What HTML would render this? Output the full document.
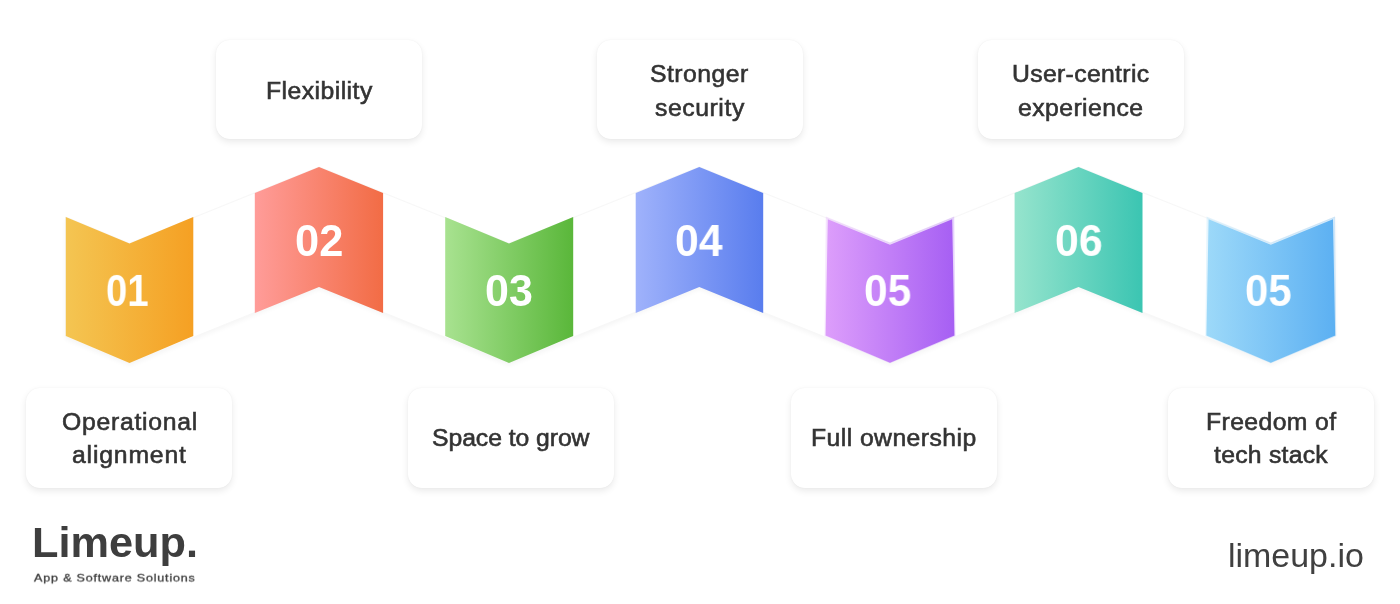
<!DOCTYPE html>
<html lang="en"><head><meta charset="utf-8"><title>Limeup – benefits</title>
<style>
*{box-sizing:border-box;margin:0;padding:0}
html,body{width:1400px;height:604px;background:#fff;overflow:hidden}
body{position:relative;font-family:"Liberation Sans",sans-serif;color:#333}
.art{position:absolute;left:0;top:0}
.card{position:absolute;width:206px;height:99.5px;border-radius:14px;background:#fff;
 box-shadow:0 3px 7px rgba(0,0,0,.085),0 0 1.5px rgba(0,0,0,.06)}
.t{position:absolute;font-size:24.75px;line-height:34px;color:#333;white-space:nowrap;will-change:transform;
 -webkit-text-stroke:0.6px #333}
.num{position:absolute;font-weight:700;font-size:43px;line-height:44px;color:#fff;white-space:nowrap;
 transform-origin:0 0;will-change:transform}
.logo{position:absolute;font-weight:700;font-size:40px;line-height:48px;color:#3e3e3e;white-space:nowrap;will-change:transform;transform-origin:0 0}
.tag{position:absolute;font-size:11.5px;line-height:16px;color:#3c3c3c;white-space:nowrap;will-change:transform;transform-origin:0 0;letter-spacing:.7px;-webkit-text-stroke:.3px #3c3c3c}
.site{position:absolute;font-size:32px;line-height:40px;color:#404040;white-space:nowrap;will-change:transform;transform-origin:0 0}
</style></head><body>
<svg class="art" width="1400" height="604" viewBox="0 0 1400 604" aria-hidden="true">
<defs>
<linearGradient id="g0" x1="0" y1="0" x2="1" y2="0"><stop offset="0" stop-color="#F4C552"/><stop offset="1" stop-color="#F5A023"/></linearGradient>
<linearGradient id="g1" x1="0" y1="0" x2="1" y2="0"><stop offset="0" stop-color="#FF9C99"/><stop offset="1" stop-color="#F26C45"/></linearGradient>
<linearGradient id="g2" x1="0" y1="0" x2="1" y2="0"><stop offset="0" stop-color="#A8E290"/><stop offset="1" stop-color="#5AB73A"/></linearGradient>
<linearGradient id="g3" x1="0" y1="0" x2="1" y2="0"><stop offset="0" stop-color="#9FB2FB"/><stop offset="1" stop-color="#597DEE"/></linearGradient>
<linearGradient id="g4" x1="0" y1="0" x2="1" y2="0"><stop offset="0" stop-color="#DD9EFB"/><stop offset="1" stop-color="#A65FF3"/></linearGradient>
<linearGradient id="g5" x1="0" y1="0" x2="1" y2="0"><stop offset="0" stop-color="#96E4CD"/><stop offset="1" stop-color="#3BC5B2"/></linearGradient>
<linearGradient id="g6" x1="0" y1="0" x2="1" y2="0"><stop offset="0" stop-color="#9DD9F9"/><stop offset="1" stop-color="#5CB0F2"/></linearGradient>
<filter id="sh" x="-5%" y="-20%" width="110%" height="150%"><feGaussianBlur stdDeviation="2.5"/></filter>
</defs>
<polygon points="65.5,217 129.5,243.5 319,167 509,243.5 699.3,167 890,243.5 1078.5,167 1270.8,243.5 1335,217 1335,336.5 1270.8,363.0 1078.5,286.5 890,363.0 699.3,286.5 509,363.0 319,286.5 129.5,363.0 65.5,336.5" fill="#000" opacity="0.04" filter="url(#sh)" transform="translate(0,2.5)"/>
<polygon points="65.5,217 129.5,243.5 319,167 509,243.5 699.3,167 890,243.5 1078.5,167 1270.8,243.5 1335,217 1335,336.5 1270.8,363.0 1078.5,286.5 890,363.0 699.3,286.5 509,363.0 319,286.5 129.5,363.0 65.5,336.5" fill="#fff" stroke="#f7f7f7" stroke-width="1"/>
<polygon points="65.8,217 129.5,243.5 193.3,217 193.3,336 129.5,363 65.8,336" fill="url(#g0)"/>
<polygon points="254.8,193 319,167 383.1,193 383.1,313 319,287 254.8,313" fill="url(#g1)"/>
<polygon points="445.2,217 509,243.5 573.2,217 573.2,336 509,363 445.2,336" fill="url(#g2)"/>
<polygon points="635.7,193 699.3,167 763.2,193 763.2,313 699.3,287 635.7,313" fill="url(#g3)"/>
<polygon points="825.8,216.6 890,242.6 954.2,216.6 955.4,336 890,363.2 824.6,336" fill="url(#g4)" opacity="0.28"/>
<polygon points="827.8,219.3 890,244.7 952.2,219.3 954.4,335.6 890,362.8 825.6,335.6" fill="url(#g4)"/>
<polygon points="1014.6,193 1078.5,167 1142.5,193 1142.5,313 1078.5,287 1014.6,313" fill="url(#g5)"/>
<polygon points="1206.6,216.6 1270.8,242.6 1335,216.6 1336.2,336 1270.8,363.2 1205.4,336" fill="url(#g6)" opacity="0.28"/>
<polygon points="1208.6,219.3 1270.8,244.7 1333,219.3 1335.2,335.6 1270.8,362.8 1206.4,335.6" fill="url(#g6)"/>
</svg>
<div class="card" style="left:216.1px;top:39.6px">
<span class="t" id="t0" style="left:49.55px;top:34.45px;letter-spacing:0.45px">Flexibility</span>
</div>
<div class="card" style="left:596.8px;top:39.6px">
<span class="t" id="t1" style="left:53.59px;top:17.03px;letter-spacing:0.48px">Stronger</span>
<span class="t" id="t2" style="left:58.69px;top:50.97px;letter-spacing:0.57px">security</span>
</div>
<div class="card" style="left:977.7px;top:39.6px">
<span class="t" id="t3" style="left:34.12px;top:17.03px;letter-spacing:0.34px">User-centric</span>
<span class="t" id="t4" style="left:40.75px;top:51.05px;letter-spacing:0.43px">experience</span>
</div>
<div class="card" style="left:25.8px;top:388px">
<span class="t" id="t5" style="left:35.84px;top:16.79px;letter-spacing:0.72px">Operational</span>
<span class="t" id="t6" style="left:45.81px;top:50.34px;letter-spacing:0.82px">alignment</span>
</div>
<div class="card" style="left:408.3px;top:388px">
<span class="t" id="t7" style="left:23.69px;top:33.02px;letter-spacing:-0.06px">Space to grow</span>
</div>
<div class="card" style="left:790.7px;top:388px">
<span class="t" id="t8" style="left:19.89px;top:33.02px;letter-spacing:0.43px">Full ownership</span>
</div>
<div class="card" style="left:1167.8px;top:388px">
<span class="t" id="t9" style="left:38.57px;top:16.77px;letter-spacing:0.4px">Freedom of</span>
<span class="t" id="t10" style="left:46.25px;top:50.01px;letter-spacing:0.25px">tech stack</span>
</div>
<div class="num" id="n0" style="left:106.11px;top:267.42px;transform:scale(0.8881,1.0464)">01</div>
<div class="num" id="n1" style="left:294.97px;top:217.05px;transform:scale(1.0094,1.0527)">02</div>
<div class="num" id="n2" style="left:484.97px;top:266.56px;transform:scale(1.0003,1.0453)">03</div>
<div class="num" id="n3" style="left:675.48px;top:218.65px;transform:scale(0.9917,1.0104)">04</div>
<div class="num" id="n4" style="left:864px;top:267.8px;transform:scale(0.9866,1.0368)">05</div>
<div class="num" id="n5" style="left:1054.65px;top:217.85px;transform:scale(0.9937,1.0381)">06</div>
<div class="num" id="n6" style="left:1244.81px;top:267.17px;transform:scale(0.9730,1.0417)">05</div>
<div class="logo" id="logo" style="left:31.77px;top:517.03px;transform:scale(1.0829,1.0573)">Limeup.</div>
<div class="tag" id="tag" style="left:34.42px;top:569.93px;transform:scale(1.0972,0.9546)">App &amp; Software Solutions</div>
<div class="site" id="site" style="left:1228.02px;top:534.55px;transform:scale(1.0603,1.0336)">limeup.io</div>
</body></html>
